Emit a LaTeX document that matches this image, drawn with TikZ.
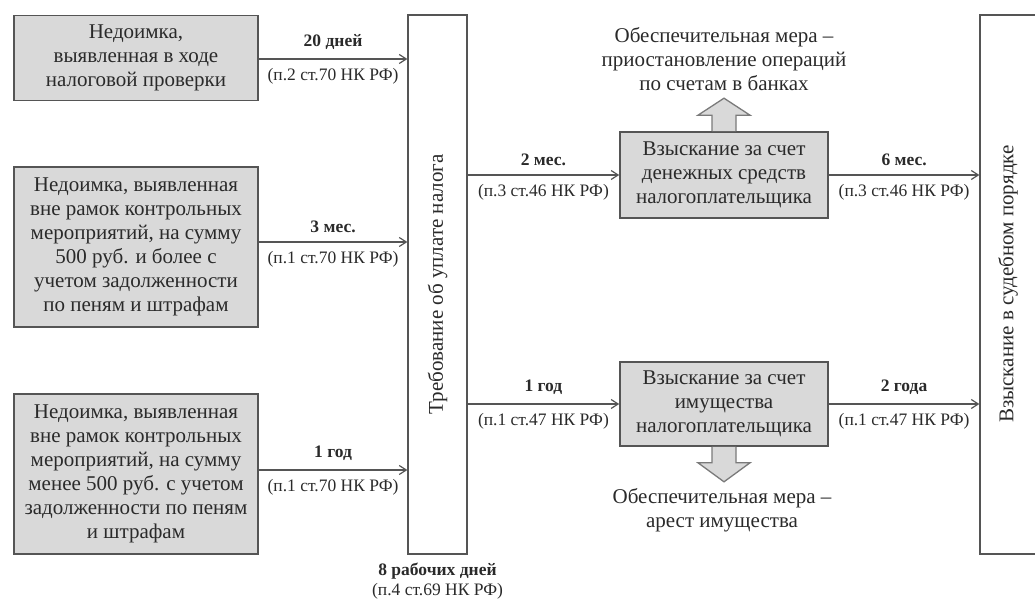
\documentclass[tikz,border=0pt]{standalone}
\usepackage{fontspec}
\setmainfont{Liberation Serif}
\usetikzlibrary{arrows.meta}
\definecolor{boxfill}{HTML}{D9D9D9}
\definecolor{boxline}{HTML}{555555}
\definecolor{lineclr}{HTML}{555555}
\definecolor{txt}{HTML}{2A2A2A}
\definecolor{blkfill}{HTML}{D9D9D9}
\definecolor{blkline}{HTML}{7A7A7A}
\begin{document}
\begin{tikzpicture}[x=1pt,y=-1pt,
  gbox/.style={draw=boxline, line width=1.6pt, fill=boxfill, inner sep=0pt,
    align=center, text=txt, font=\fontsize{21}{24}\selectfont},
  vbox/.style={draw=boxline, line width=1.3pt, fill=white, inner sep=0pt},
  vtext/.style={rotate=90, text=txt, inner sep=0pt, font=\fontsize{21}{24}\selectfont},
  note/.style={align=center, text=txt, inner sep=0pt, font=\fontsize{21}{24}\selectfont},
  lab/.style={text=txt, inner sep=0pt, font=\fontsize{17.5}{20}\selectfont},
  labtop/.style={lab, above=9pt, font=\fontsize{17.5}{20}\selectfont\bfseries},
  labbot/.style={lab, below=9pt},
  conn/.style={draw=lineclr, line width=1.3pt, -{Straight Barb[length=7pt,width=9pt,line width=1.2pt]}},
  blk/.style={draw=blkline, fill=blkfill, line width=1.3pt, line join=miter}
]
\useasboundingbox (0,0) rectangle (1035,601);

% left source boxes
\node[gbox, minimum width=244pt, minimum height=85pt] (b1) at (136,58)
  {Недоимка,\\выявленная в ходе\\налоговой проверки};
\node[gbox, minimum width=244pt, minimum height=160pt] (b2) at (136,247)
  {Недоимка, выявленная\\вне рамок контрольных\\мероприятий, на сумму\\500 руб. и более с\\учетом задолженности\\по пеням и штрафам};
\node[gbox, minimum width=244pt, minimum height=160pt] (b3) at (136,474)
  {Недоимка, выявленная\\вне рамок контрольных\\мероприятий, на сумму\\менее 500 руб. с учетом\\задолженности по пеням\\и штрафам};

% vertical boxes
\node[vbox, minimum width=59pt, minimum height=539pt] (req) at (437.5,284.5) {};
\node[vtext] (reqtxt) at (req.center) {Требование об уплате налога};
\node[vbox, minimum width=70pt, minimum height=539pt] (court) at (1015,284.5) {};
\node[vtext] (courttxt) at (1008,284) {Взыскание в судебном порядке};

% middle boxes
\node[gbox, minimum width=208pt, minimum height=86pt] (money) at (724,175)
  {Взыскание за счет\\денежных средств\\налогоплательщика};
\node[gbox, minimum width=208pt, minimum height=84pt] (prop) at (724,404)
  {Взыскание за счет\\имущества\\налогоплательщика};

% notes
\node[note] (note1) at (724,59) {Обеспечительная мера –\\приостановление операций\\по счетам в банках};
\node[note] (note2) at (722,510) {Обеспечительная мера –\\арест имущества};

% block arrows
\draw[blk] ([xshift=-12pt]money.north) -- ++(0,-16) -- ++(-14,0) -- ++(26,-17)
  -- ++(26,17) -- ++(-14,0) -- ++(0,16);
\draw[blk] ([xshift=-12pt]prop.south) -- ++(0,16) -- ++(-14,0) -- ++(26,19)
  -- ++(26,-19) -- ++(-14,0) -- ++(0,-16);

% connectors into requirement
\draw[conn] ([yshift=-1pt]b1.east) -- node[labtop]{20 дней} node[labbot]{(п.2 ст.70 НК РФ)}
  ([yshift=-1pt]b1.east -| req.west);
\draw[conn] ([yshift=5pt]b2.east) -- node[labtop]{3 мес.} node[labbot]{(п.1 ст.70 НК РФ)}
  ([yshift=5pt]b2.east -| req.west);
\draw[conn] ([yshift=4pt]b3.east) -- node[labtop]{1 год} node[labbot]{(п.1 ст.70 НК РФ)}
  ([yshift=4pt]b3.east -| req.west);

% requirement to collection
\draw[conn] (req.east |- money.west) -- node[labtop]{2 мес.} node[labbot]{(п.3 ст.46 НК РФ)} (money.west);
\draw[conn] (req.east |- prop.west) -- node[labtop]{1 год} node[labbot]{(п.1 ст.47 НК РФ)} (prop.west);

% collection to court
\draw[conn] (money.east) -- node[labtop]{6 мес.} node[labbot]{(п.3 ст.46 НК РФ)} (money.east -| court.west);
\draw[conn] (prop.east) -- node[labtop]{2 года} node[labbot]{(п.1 ст.47 НК РФ)} (prop.east -| court.west);

% bottom label
\node[lab, align=center, below=8pt] (reqlab) at (req.south)
  {\textbf{8 рабочих дней}\\(п.4 ст.69 НК РФ)};
\end{tikzpicture}
\end{document}
